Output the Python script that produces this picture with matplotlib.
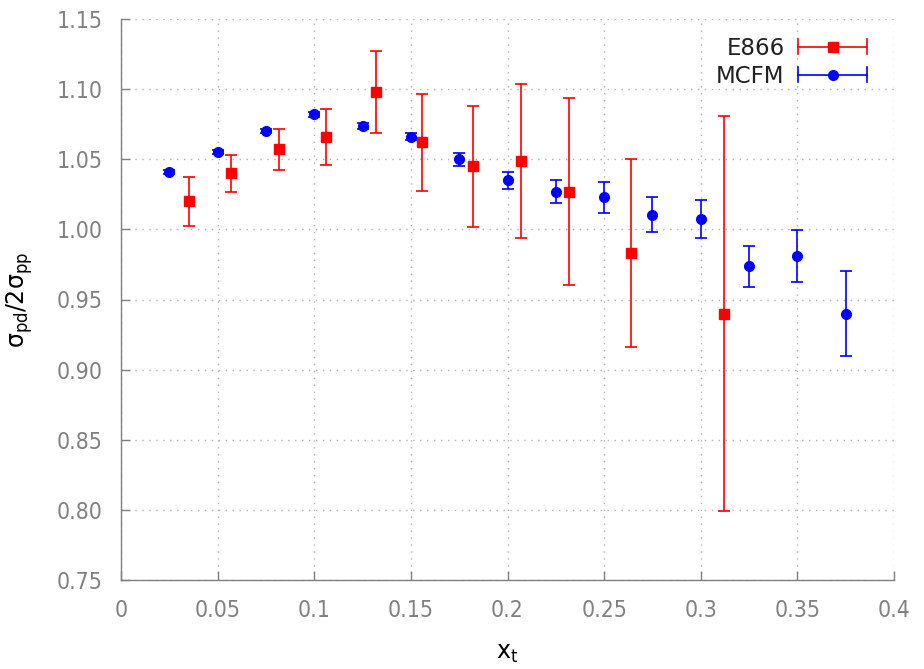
import matplotlib
matplotlib.use("Agg")
import matplotlib.pyplot as plt
from matplotlib.legend_handler import HandlerBase
from matplotlib.lines import Line2D
from matplotlib import font_manager

# E866 data
e866_x = [0.035, 0.057, 0.082, 0.106, 0.132, 0.156, 0.182, 0.207, 0.232, 0.264, 0.312]
e866_y = [1.020, 1.040, 1.057, 1.066, 1.098, 1.062, 1.045, 1.049, 1.027, 0.983, 0.940]
e866_err = [0.0175, 0.013, 0.0147, 0.020, 0.029, 0.0345, 0.043, 0.055, 0.067, 0.067, 0.141]

# MCFM data
mcfm_x = [0.025, 0.05, 0.075, 0.1, 0.125, 0.15, 0.175, 0.2, 0.225, 0.25, 0.275, 0.3, 0.325, 0.35, 0.375]
mcfm_y = [1.041, 1.055, 1.070, 1.082, 1.0735, 1.066, 1.050, 1.035, 1.027, 1.023, 1.0105, 1.0075, 0.9737, 0.981, 0.940]
mcfm_err = [0.0015, 0.0015, 0.0015, 0.0018, 0.002, 0.0025, 0.0045, 0.006, 0.0084, 0.011, 0.0126, 0.0136, 0.0148, 0.0185, 0.0305]

xticks = [0, 0.05, 0.1, 0.15, 0.2, 0.25, 0.3, 0.35, 0.4]
xticklabels = ["0", "0.05", "0.1", "0.15", "0.2", "0.25", "0.3", "0.35", "0.4"]
yticks = [0.75, 0.80, 0.85, 0.90, 0.95, 1.00, 1.05, 1.10, 1.15]
yticklabels = ["0.75", "0.80", "0.85", "0.90", "0.95", "1.00", "1.05", "1.10", "1.15"]

RED = "#ff0000"
BLUE = "#0000ff"
GRAY = "#808080"

# use condensed DejaVu if available
names = {f.name for f in font_manager.fontManager.ttflist}
tick_font = font_manager.FontProperties(family="DejaVu Sans", stretch="condensed", size=16.5)
if "DejaVu Sans Condensed" not in names:
    cond = [f for f in font_manager.fontManager.ttflist
            if f.name.startswith("DejaVu Sans") and "ondensed" in f.fname and "Bold" not in f.fname and "Oblique" not in f.fname]
    if cond:
        tick_font = font_manager.FontProperties(fname=cond[0].fname, size=16.5)

fig = plt.figure(figsize=(9.24, 6.69), dpi=100)
ax = fig.add_axes([121/924, 1 - 580/669, (894-121)/924, (580-19)/669])

ax.errorbar(e866_x, e866_y, yerr=e866_err, fmt="s", color=RED, ecolor=RED,
            markersize=7, elinewidth=1.2, capsize=4.5, capthick=1.2, zorder=3)
ax.errorbar(mcfm_x, mcfm_y, yerr=mcfm_err, fmt="o", color=BLUE, ecolor=BLUE,
            markersize=7, elinewidth=1.2, capsize=4.5, capthick=1.2, zorder=3)

ax.set_xlim(0, 0.4)
ax.set_ylim(0.75, 1.15)
ax.set_xticks(xticks)
ax.set_xticklabels(xticklabels, fontproperties=tick_font)
ax.set_yticks(yticks)
ax.set_yticklabels(yticklabels, fontproperties=tick_font)

ax.grid(True, linestyle=(0, (1, 4)), color="#b0b0b0", linewidth=1.0)
ax.set_axisbelow(True)
for s in ["top", "right"]:
    ax.spines[s].set_visible(False)
for s in ["left", "bottom"]:
    ax.spines[s].set_color(GRAY)
    ax.spines[s].set_linewidth(1.0)
ax.tick_params(direction="in", length=6.5, width=1.0, color=GRAY, labelcolor=GRAY)
ax.tick_params(axis="x", pad=14)
ax.tick_params(axis="y", pad=13)

ax.set_xlabel(r"$\mathregular{x_t}$", fontsize=17, labelpad=13)
ax.set_ylabel(r"$\mathregular{\sigma_{pd}/2\sigma_{pp}}$", fontsize=17, labelpad=16)


class ErrHandler(HandlerBase):
    def __init__(self, color, marker):
        super().__init__()
        self.color = color
        self.marker = marker

    def create_artists(self, legend, orig_handle, xdescent, ydescent, width, height, fontsize, trans):
        y = height / 2 - ydescent
        x0, x1 = -xdescent, -xdescent + width
        cap = height * 0.45
        arts = [
            Line2D([x0, x1], [y, y], color=self.color, lw=1.2),
            Line2D([x0, x0], [y - cap, y + cap], color=self.color, lw=1.2),
            Line2D([x1, x1], [y - cap, y + cap], color=self.color, lw=1.2),
            Line2D([(x0 + x1) / 2], [y], color=self.color, marker=self.marker,
                   markersize=7, linestyle="none"),
        ]
        for a in arts:
            a.set_transform(trans)
        return arts


h1 = Line2D([], [], color=RED)
h2 = Line2D([], [], color=BLUE)
leg = ax.legend([h1, h2], ["E866", "MCFM"],
                handler_map={h1: ErrHandler(RED, "s"), h2: ErrHandler(BLUE, "o")},
                loc="upper right", bbox_to_anchor=(0.977, 0.985), frameon=False,
                markerfirst=False, fontsize=16.5, handlelength=3.0, handletextpad=0.6,
                labelspacing=0.22, borderaxespad=0.0)
for t in leg.get_texts():
    t.set_color("#202020")

fig.savefig("out.png", dpi=100)
